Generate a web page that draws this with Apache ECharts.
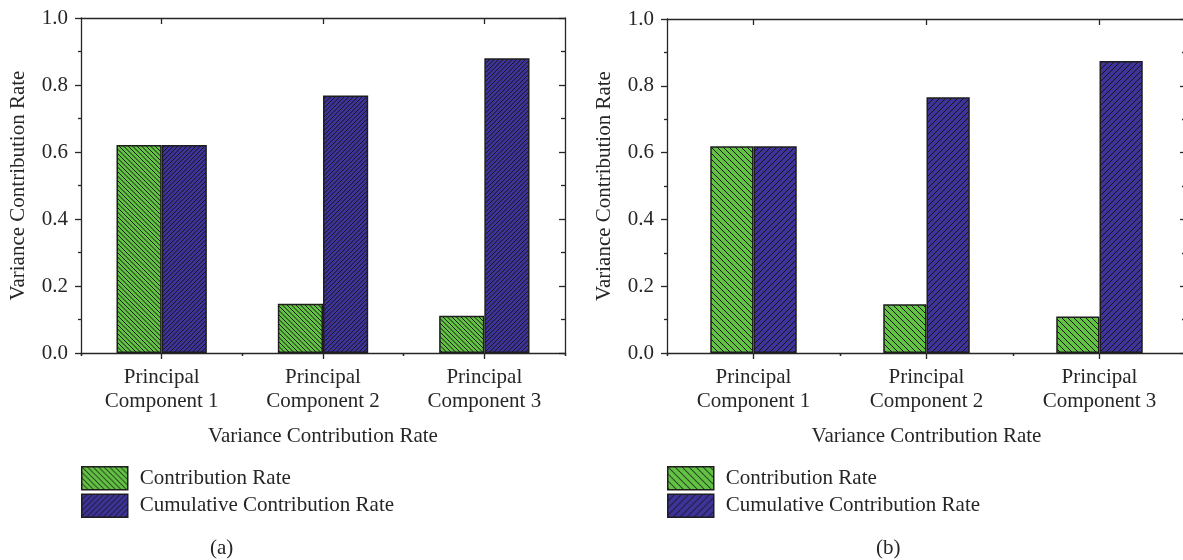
<!DOCTYPE html>
<html>
<head>
<meta charset="utf-8">
<script src="https://cdn.jsdelivr.net/npm/echarts@6/dist/echarts.min.js"></script>
<style>
  html, body { margin: 0; padding: 0; background: #ffffff; }
  #chart { width: 1183px; height: 560px; }
</style>
</head>
<body>
<div id="chart"></div>
<script>
// Categories and values for the two panels
const categories = ['Principal\nComponent 1', 'Principal\nComponent 2', 'Principal\nComponent 3'];
const seriesNames = ['Contribution Rate', 'Cumulative Contribution Rate'];
const axisTitle = 'Variance Contribution Rate';
const panelTags = ['(a)', '(b)'];
const yRange = [0, 1];
const yStep = 0.2;

const contributionA = [0.621, 0.147, 0.111];
const cumulativeA = [0.621, 0.769, 0.880];
const contributionB = [0.619, 0.146, 0.109];
const cumulativeB = [0.619, 0.766, 0.874];

const GREEN = '#62c243';
const BLUE = '#3d3399';
const INK = '#262626';

// Diagonal hatch tile: 'back' = "\" lines, 'fwd' = "/" lines
function hatch(bg, period, dir) {
  const n = Math.round(period * 4);
  const c = document.createElement('canvas');
  c.width = n; c.height = n;
  const ctx = c.getContext('2d');
  ctx.fillStyle = bg;
  ctx.fillRect(0, 0, n, n);
  ctx.strokeStyle = '#151515';
  ctx.lineWidth = 1;
  ctx.beginPath();
  for (let k = -4; k <= 4; k++) {
    const o = k * n / 4;
    if (dir === 'back') { ctx.moveTo(o, 0); ctx.lineTo(o + n, n); }
    else { ctx.moveTo(o, n); ctx.lineTo(o + n, 0); }
  }
  ctx.stroke();
  return { image: c, repeat: 'repeat' };
}

const font = { fontFamily: 'Liberation Serif', fontSize: 21, color: INK };
const axisLineStyle = { color: INK, width: 1.3 };

// Panel (b) runs past the right edge of the canvas, so its right frame line is cut off
const panels = [
  { grid: { left: 81, top: 18, width: 484, height: 335 }, contribution: contributionA, cumulative: cumulativeA,
    period: 4.5, legendPeriod: 5.5, gap: '44%', legendLeft: 81, tagX: 222 },
  { grid: { left: 667, top: 19, width: 519, height: 334 }, contribution: contributionB, cumulative: cumulativeB,
    period: 6, legendPeriod: 7, gap: '50%', legendLeft: 667, tagX: 888 }
];

const grids = [], xAxes = [], yAxes = [], series = [], legends = [], graphics = [];

panels.forEach((p, i) => {
  grids.push(Object.assign({ containLabel: false, outerBoundsMode: 'none' }, p.grid));

  // bottom: labelled axis with ticks at category centres
  xAxes.push({
    type: 'category', gridIndex: i, position: 'bottom', data: categories,
    axisLine: { show: true, onZero: false, lineStyle: axisLineStyle },
    axisTick: { show: true, alignWithLabel: true, interval: 0, length: 6, lineStyle: axisLineStyle },
    axisLabel: Object.assign({ interval: 0, margin: 12, lineHeight: 24 }, font),
    splitLine: { show: false },
    name: axisTitle, nameLocation: 'middle', nameGap: 71,
    nameTextStyle: Object.assign({ lineHeight: 24 }, font)
  });
  // bottom: short ticks at category boundaries
  xAxes.push({
    type: 'category', gridIndex: i, position: 'bottom', data: categories,
    axisLine: { show: false }, axisLabel: { show: false }, splitLine: { show: false },
    axisTick: { show: true, interval: 0, length: 3, lineStyle: axisLineStyle }
  });
  // top frame: inward ticks at centres
  xAxes.push({
    type: 'category', gridIndex: i, position: 'top', data: categories,
    axisLine: { show: true, onZero: false, lineStyle: axisLineStyle }, axisLabel: { show: false }, splitLine: { show: false },
    axisTick: { show: true, alignWithLabel: true, inside: true, interval: 0, length: 6, lineStyle: axisLineStyle }
  });
  // top frame: inward short ticks at boundaries
  xAxes.push({
    type: 'category', gridIndex: i, position: 'top', data: categories,
    axisLine: { show: false }, axisLabel: { show: false }, splitLine: { show: false },
    axisTick: { show: true, inside: true, interval: 0, length: 3, lineStyle: axisLineStyle }
  });

  yAxes.push({
    type: 'value', gridIndex: i, position: 'left', min: yRange[0], max: yRange[1], interval: yStep,
    axisLine: { show: true, onZero: false, lineStyle: axisLineStyle },
    axisTick: { show: true, length: 6, lineStyle: axisLineStyle },
    minorTick: { show: true, splitNumber: 2, length: 3, lineStyle: axisLineStyle },
    splitLine: { show: false }, minorSplitLine: { show: false },
    axisLabel: Object.assign({ margin: 13, formatter: v => v.toFixed(1) }, font),
    name: axisTitle, nameLocation: 'middle', nameGap: 51,
    nameTextStyle: Object.assign({ lineHeight: 24 }, font)
  });
  yAxes.push({
    type: 'value', gridIndex: i, position: 'right', min: yRange[0], max: yRange[1], interval: yStep,
    axisLine: { show: true, onZero: false, lineStyle: axisLineStyle },
    axisTick: { show: true, inside: true, length: 6, lineStyle: axisLineStyle },
    minorTick: { show: true, splitNumber: 2, length: 4, lineStyle: axisLineStyle },
    splitLine: { show: false }, minorSplitLine: { show: false },
    axisLabel: { show: false }
  });

  const border = { borderColor: '#1e1e1e', borderWidth: 1.5 };
  series.push({
    type: 'bar', name: seriesNames[0], xAxisIndex: 4 * i, yAxisIndex: 2 * i,
    data: p.contribution, barGap: '0%', barCategoryGap: p.gap,
    itemStyle: Object.assign({ color: hatch(GREEN, p.period, 'back') }, border),
    emphasis: { disabled: true }
  });
  series.push({
    type: 'bar', name: seriesNames[1], xAxisIndex: 4 * i, yAxisIndex: 2 * i,
    data: p.cumulative, barGap: '0%', barCategoryGap: p.gap,
    itemStyle: Object.assign({ color: hatch(BLUE, p.period, 'fwd') }, border),
    emphasis: { disabled: true }
  });

  legends.push({
    orient: 'vertical', left: p.legendLeft, top: 466, padding: 0,
    itemWidth: 46, itemHeight: 23, itemGap: 3, icon: 'rect', selectedMode: false,
    textStyle: Object.assign({ lineHeight: 24, padding: [0, 0, 0, 7] }, font),
    data: [
      { name: seriesNames[0], itemStyle: Object.assign({ color: hatch(GREEN, p.legendPeriod, 'back') }, border) },
      { name: seriesNames[1], itemStyle: Object.assign({ color: hatch(BLUE, p.legendPeriod, 'fwd') }, border) }
    ]
  });

  graphics.push({
    type: 'text', left: p.tagX - 12, top: 538,
    style: { text: panelTags[i], font: '21px "Liberation Serif"', fill: INK }
  });
});

const chart = echarts.init(document.getElementById('chart'), null, { renderer: 'canvas' });
chart.setOption({
  animation: false,
  backgroundColor: '#ffffff',
  grid: grids,
  xAxis: xAxes,
  yAxis: yAxes,
  legend: legends,
  series: series,
  graphic: graphics,
  tooltip: { show: false }
});
</script>
</body>
</html>
